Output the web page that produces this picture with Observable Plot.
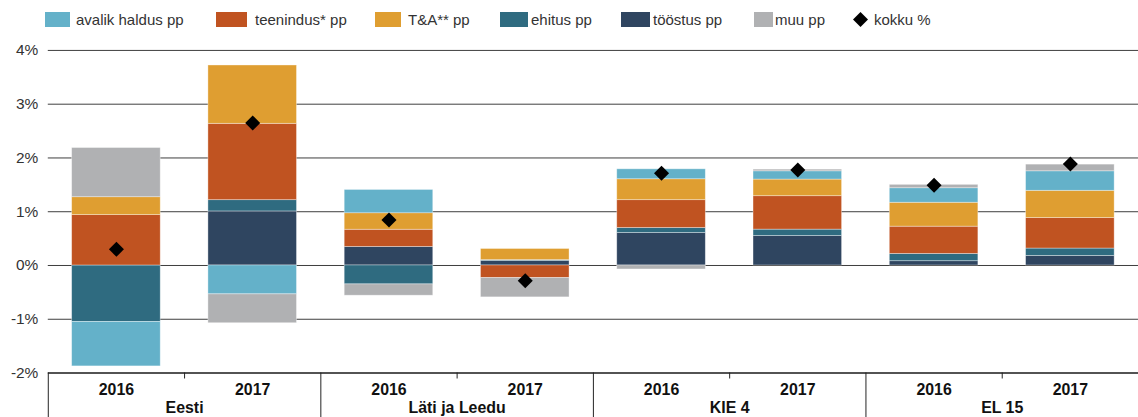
<!DOCTYPE html>
<html><head><meta charset="utf-8">
<script src="https://cdn.jsdelivr.net/npm/d3@7"></script>
<script src="https://cdn.jsdelivr.net/npm/@observablehq/plot@0.6"></script>
<style>
html,body{margin:0;padding:0;background:#fff;overflow:hidden;width:1138px;height:417px}
body{font-family:"Liberation Sans",Arial,sans-serif;position:relative}
#legend{position:relative;height:35px}
.li{position:absolute;top:12px;height:15px;display:flex;align-items:center;font-size:15px;color:#333;white-space:nowrap;line-height:15px}
.sw{display:inline-block;height:15px}
</style></head><body>
<div id="legend"></div><div id="chart"></div>
<script>
// ---- data ----
const regions = ["Eesti", "Läti ja Leedu", "KIE 4", "EL 15"];
const years = ["2016", "2017"];
// stack order (bottom-up for positives, top-down for negatives)
const sectors = ["tööstus pp", "ehitus pp", "teenindus* pp", "T&A** pp", "avalik haldus pp", "muu pp"];
const sectorColors = ["#2f4560", "#2f6b80", "#c05321", "#df9e31", "#64b1c9", "#b0b1b3"];
// values per group: Eesti16, Eesti17, LL16, LL17, KIE16, KIE17, EL16, EL17 (pp)
const toostus = [0, 1.005, 0.345, 0.085, 0.604, 0.548, 0.08, 0.178];
const ehitus = [-1.05, 0.21, -0.352, 0.015, 0.093, 0.119, 0.135, 0.137];
const teenindus = [0.937, 1.42, 0.32, -0.235, 0.518, 0.622, 0.507, 0.567];
const tja = [0.333, 1.085, 0.307, 0.207, 0.389, 0.309, 0.445, 0.507];
const avalik = [-0.827, -0.537, 0.433, 0, 0.185, 0.154, 0.27, 0.363];
const muu = [0.915, -0.537, -0.21, -0.358, -0.074, 0.031, 0.063, 0.124];
const kokku = [0.30, 2.65, 0.845, -0.285, 1.715, 1.777, 1.493, 1.889];
const yTicks = [-2, -1, 0, 1, 2, 3, 4];
const legendOrder = ["avalik haldus pp", "teenindus* pp", "T&A** pp", "ehitus pp", "tööstus pp", "muu pp"];
const totalLabel = "kokku %";

// ---- build tables ----
const seriesValues = [toostus, ehitus, teenindus, tja, avalik, muu];
const groups = [];
regions.forEach((r, ri) => years.forEach((y, yi) => groups.push({i: ri * years.length + yi, region: r, year: y})));
const rows = [];
groups.forEach(g => sectors.forEach((s, si) => rows.push({i: g.i, sector: s, value: seriesValues[si][g.i]})));
const totals = groups.map(g => ({i: g.i, value: kokku[g.i]}));
const regionRows = regions.map((r, ri) => ({i: ri, region: r}));

// ---- legend (layout styles) ----
const legendLayout = [
  {left: 45, w: 25, gap: 6}, {left: 216, w: 31, gap: 8}, {left: 375, w: 26, gap: 7},
  {left: 500, w: 28, gap: 3}, {left: 621, w: 29, gap: 3}, {left: 754, w: 19, gap: 2}
];
const leg = document.getElementById("legend");
legendOrder.forEach((s, k) => {
  const L = legendLayout[k];
  const item = document.createElement("div");
  item.className = "li";
  item.style.left = L.left + "px";
  const sw = document.createElement("span");
  sw.className = "sw";
  sw.style.width = L.w + "px";
  sw.style.background = sectorColors[sectors.indexOf(s)];
  sw.style.marginRight = L.gap + "px";
  item.appendChild(sw);
  item.appendChild(document.createTextNode(s));
  leg.appendChild(item);
});
{
  const item = document.createElement("div");
  item.className = "li";
  item.style.left = "852px";
  item.innerHTML = '<svg width="17" height="17" style="margin-right:5px"><path d="M8.5,1L16,8.5L8.5,16L1,8.5Z" fill="#000"/></svg>';
  item.appendChild(document.createTextNode(totalLabel));
  leg.appendChild(item);
}

// ---- plot ----
const barPad = 0.175;
const plot = Plot.plot({
  width: 1143, height: 382,
  marginLeft: 48, marginRight: 0, marginTop: 15, marginBottom: 43,
  style: {fontFamily: "Liberation Sans, Arial, sans-serif", overflow: "visible", background: "#fff"},
  x: {type: "linear", domain: [0, groups.length]},
  y: {domain: [yTicks[0], yTicks[yTicks.length - 1]], axis: null},
  color: {domain: sectors, range: sectorColors},
  marks: [
    Plot.ruleY(yTicks.slice(1), {stroke: "#3d3d3d", strokeWidth: 1}),
    Plot.rectY(rows, {x1: d => d.i + barPad, x2: d => d.i + 1 - barPad, y: "value", fill: "sector",
      stroke: "#fff", strokeOpacity: 0.45, strokeWidth: 0.8}),
    Plot.ruleY([yTicks[0]], {stroke: "#1a1a1a", strokeWidth: 1.6}),
    Plot.dot(totals, {x: d => d.i + 0.5, y: "value", symbol: "diamond2", r: 6.8, fill: "#000", stroke: "none"}),
    Plot.text(yTicks, {x: 0, y: d => d, text: d => `${d}%`, textAnchor: "end", dx: -10, fontSize: 15.5, fill: "#333"}),
    Plot.axisX({ticks: groups.filter(g => g.i % 2 === 1).map(g => g.i), tickSize: 6, tickFormat: () => "", stroke: "#222"}),
    Plot.axisX({ticks: regionRows.map(r => r.i * 2), tickSize: 50, tickFormat: () => "", stroke: "#222"}),
    Plot.text(groups, {x: d => d.i + 0.5, frameAnchor: "bottom", dy: 17, lineAnchor: "middle", text: "year",
      fontWeight: "bold", fontSize: 16, fill: "#111"}),
    Plot.text(regionRows, {x: d => d.i * 2 + 1, frameAnchor: "bottom", dy: 35, lineAnchor: "middle", text: "region",
      fontWeight: "bold", fontSize: 16, fill: "#111"})
  ]
});
document.getElementById("chart").appendChild(plot);
</script>
</body></html>
